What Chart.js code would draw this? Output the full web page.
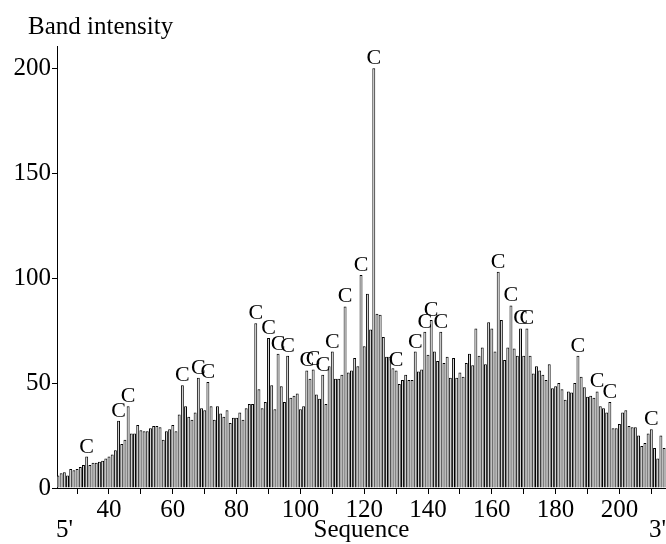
<!DOCTYPE html>
<html>
<head>
<meta charset="utf-8">
<script src="https://cdn.jsdelivr.net/npm/chart.js@4"></script>
<style>
  html, body { margin: 0; padding: 0; background: #fff; }
  #wrap { width: 666px; height: 544px; }
</style>
</head>
<body>
<div id="wrap"><canvas id="bandChart" width="666" height="544"></canvas></div>
<script>
// band intensity per sequence position, starting at position 24
const firstSite = 24;
const intensity = [
  6, 7, 7.5, 6, 9, 8.5, 9, 10, 11, 15,
  11, 12, 12, 12.5, 13, 14, 15, 16, 18, 32,
  21, 23, 39, 26, 26, 30, 27.5, 27, 27, 28.5,
  29.5, 29.5, 29, 23, 27, 28, 30, 27, 35, 49,
  39, 34, 32.5, 36, 52.5, 38, 37, 50.5, 39, 32.5,
  39, 35.5, 34, 37, 31, 33.5, 33.5, 36, 32.5, 38,
  40, 40, 78.5, 47, 38, 41, 71.5, 49, 37.5, 64,
  48.5, 41, 63, 43, 44, 45, 37.5, 39, 56, 52,
  56.5, 44.5, 42.5, 54, 40, 58, 65, 52, 52, 54,
  86.5, 55, 56, 62, 58, 101.5, 67.5, 92.5, 75.5, 200,
  83, 82.5, 72, 62.5, 62.5, 57, 56, 49.5, 51.5, 54,
  51.5, 51.5, 65, 55.5, 56.5, 74.5, 63.5, 80, 65, 60.5,
  74.5, 59.5, 62.5, 52.5, 62, 52.5, 55, 53, 59.5, 64,
  58.5, 76, 63, 67, 59, 79, 76, 65, 103, 80,
  61, 67, 87, 66.5, 63, 76, 63, 76, 63, 54.5,
  58, 56, 54, 51.5, 59, 47.5, 48.5, 50, 47, 42,
  46, 45.5, 50, 63, 53, 48, 43.5, 44, 43, 46,
  39, 38, 36, 41, 28.5, 28.5, 30.5, 36, 37, 29.5,
  29, 29, 25, 20, 21.5, 26, 28, 19, 14, 25,
  19
];
// positions marked with a C
const cSites = [33, 43, 46, 63, 68, 71, 86, 90, 93, 96, 102, 104, 107, 110, 114,
  119, 123, 130, 136, 139, 141, 144, 162, 166, 169, 171, 187, 193, 197, 210];
const xTicks = [30, 40, 50, 60, 70, 80, 90, 100, 110, 120, 130, 140, 150, 160, 170, 180, 190, 200, 210];
const xLabels = [40, 60, 80, 100, 120, 140, 160, 180, 200];
const yTicks = [0, 50, 100, 150, 200];

const serif = "'Liberation Serif', 'Times New Roman', serif";
const sites = intensity.map((v, i) => firstSite + i);

const textPlugin = {
    id: 'textPlugin',
    afterDatasetsDraw(chart) {
        const ctx = chart.ctx;
        const meta = chart.getDatasetMeta(0);
        const area = chart.chartArea;
        ctx.save();
        ctx.fillStyle = '#000';
        ctx.font = '22px ' + serif;
        ctx.textAlign = 'center';
        ctx.textBaseline = 'alphabetic';
        cSites.forEach(s => {
            const bar = meta.data[s - firstSite];
            if (bar) ctx.fillText('C', bar.x, bar.y - 4);
        });
        ctx.font = '25px ' + serif;
        ctx.textAlign = 'left';
        ctx.textBaseline = 'middle';
        ctx.fillText('Band intensity', 28, 27);
        ctx.fillText("5'", 56, 530);
        ctx.textAlign = 'center';
        ctx.fillText('Sequence', (area.left + area.right) / 2, 530);
        ctx.textAlign = 'right';
        ctx.fillText("3'", 666, 530);
        ctx.restore();
    }
};

const ctx = document.getElementById('bandChart').getContext('2d');
new Chart(ctx, {
    type: 'bar',
    data: {
        datasets: [{
            data: sites.map((s, i) => ({ x: s, y: intensity[i] })),
            backgroundColor: '#d0d0d0',
            borderColor: '#000',
            borderWidth: 1,
            barPercentage: 0.92,
            categoryPercentage: 1
        }]
    },
    options: {
        responsive: false,
        animation: false,
        layout: { padding: { top: 46, right: 0, bottom: 0, left: 0 } },
        plugins: { legend: { display: false }, tooltip: { enabled: false } },
        scales: {
            x: {
                type: 'linear',
                offset: false,
                min: 23.7,
                max: 214.6,
                afterBuildTicks: s => { s.ticks = xTicks.map(v => ({ value: v })); },
                afterFit: s => { s.height = 56; },
                ticks: {
                    autoSkip: false,
                    maxRotation: 0,
                    color: '#000',
                    padding: 1,
                    font: { family: serif, size: 25 },
                    callback: v => xLabels.includes(v) ? String(v) : ''
                },
                grid: { offset: false, drawOnChartArea: false, drawTicks: true, tickLength: 6, color: '#000' },
                border: { color: '#000', width: 1 }
            },
            y: {
                min: 0,
                max: 210.6,
                afterBuildTicks: s => { s.ticks = yTicks.map(v => ({ value: v })); },
                afterFit: s => { s.width = 57; },
                ticks: {
                    color: '#000',
                    padding: 1,
                    font: { family: serif, size: 25 }
                },
                grid: { drawOnChartArea: false, drawTicks: true, tickLength: 5, color: '#000' },
                border: { color: '#000', width: 1 }
            }
        }
    },
    plugins: [textPlugin]
});
</script>
</body>
</html>
